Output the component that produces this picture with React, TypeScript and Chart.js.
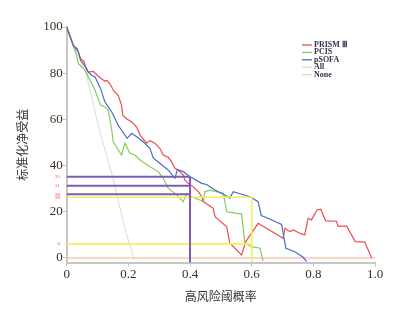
import React, { useEffect, useRef } from "react";
import { Chart, registerables } from "chart.js";

Chart.register(...registerables);

// Threshold probabilities (x) and standardized net benefit (y, %)
const prismX = [0, 0.021, 0.034, 0.045, 0.056, 0.065, 0.07, 0.086, 0.099, 0.113, 0.124, 0.13, 0.14, 0.153, 0.167, 0.178, 0.182, 0.194, 0.211, 0.227, 0.238, 0.259, 0.27, 0.286, 0.302, 0.313, 0.329, 0.34, 0.351, 0.362, 0.378, 0.383, 0.394, 0.41, 0.427, 0.438, 0.443, 0.475, 0.481, 0.519, 0.529, 0.567, 0.581, 0.621, 0.702, 0.708, 0.724, 0.735, 0.756, 0.772, 0.783, 0.794, 0.812, 0.824, 0.84, 0.875, 0.88, 0.908, 0.936, 0.967, 0.989];
const prismY = [100, 92.1, 90.6, 86.3, 85.2, 81.3, 80.5, 80.8, 79.1, 77.6, 76.5, 76.9, 75.5, 72.2, 70.4, 66.1, 61.8, 60.3, 58.9, 56.7, 53.2, 49.7, 50.8, 49.7, 47.5, 44.6, 43.6, 41.7, 38.8, 38.1, 35.9, 33.8, 32.3, 30.9, 28.7, 26.5, 24.4, 21.5, 17.9, 13.5, 6.4, 1.3, 7.1, 15.0, 8.5, 12.9, 11.4, 12.1, 10.7, 10.0, 17.2, 16.5, 20.8, 21.1, 16.1, 15.9, 13.8, 13.8, 7.1, 6.9, 0];

const pcisX = [0, 0.021, 0.032, 0.038, 0.049, 0.059, 0.07, 0.081, 0.092, 0.102, 0.11, 0.124, 0.135, 0.14, 0.146, 0.151, 0.178, 0.189, 0.205, 0.221, 0.238, 0.27, 0.297, 0.313, 0.329, 0.357, 0.378, 0.389, 0.405, 0.432, 0.443, 0.448, 0.465, 0.508, 0.519, 0.567, 0.578, 0.6, 0.627, 0.637];
const pcisY = [100, 92.1, 87.7, 84.1, 82.7, 81.3, 78.4, 75.5, 72.6, 69.0, 66.1, 65.4, 63.9, 60.3, 55.4, 50.3, 44.6, 49.7, 45.3, 44.6, 42.4, 39.5, 37.4, 34.5, 30.2, 27.3, 24.4, 28.0, 26.5, 25.1, 24.4, 28.7, 29.4, 28.0, 20.0, 19.0, 6.4, 4.9, 4.2, -1.3];

const psofaX = [0, 0.021, 0.038, 0.045, 0.056, 0.065, 0.07, 0.081, 0.092, 0.102, 0.11, 0.117, 0.124, 0.135, 0.146, 0.157, 0.167, 0.178, 0.196, 0.211, 0.227, 0.248, 0.27, 0.281, 0.302, 0.329, 0.351, 0.359, 0.378, 0.4, 0.438, 0.454, 0.481, 0.519, 0.529, 0.54, 0.594, 0.621, 0.631, 0.653, 0.697, 0.711, 0.74, 0.767, 0.778];
const psofaY = [100, 92.1, 89.2, 85.6, 83.7, 81.9, 80.5, 79.1, 78.4, 75.5, 73.3, 70.4, 67.5, 65.4, 63.2, 60.3, 57.4, 55.3, 51.8, 54.0, 52.5, 50.3, 47.5, 43.2, 41.0, 38.1, 34.5, 38.3, 37.4, 35.2, 32.3, 31.8, 29.4, 26.8, 25.8, 28.7, 26.5, 24.4, 18.4, 17.2, 14.5, 4.2, 2.7, 0.3, -1.6];

const allX = [0, 0.03, 0.063, 0.106, 0.149, 0.187, 0.219];
const allY = [100, 90, 80, 55.4, 35.2, 13.5, -0.9];

const noneX = [0, 1];
const noneY = [0, 0];

// Reference guide lines
const guidePurpleY = [35.2, 31.3, 27.6];
const guidePurpleX = 0.4;
const guideYellowY = [26.3, 6.1];
const guideYellowX = 0.6;
const guideLabels = ["35", "31", "28", "26", "6"];
const guideLabelValues = [35.2, 31.3, 27.6, 26.3, 6.1];

const xTicks = [0, 0.2, 0.4, 0.6, 0.8, 1.0];
const xTickLabels = ["0", "0.2", "0.4", "0.6", "0.8", "1.0"];
const yTicks = [0, 20, 40, 60, 80, 100];

const legendNames = ["PRISM \u2162", "PCIS", "pSOFA", "All", "None"];
const colors = ["#ef4b4b", "#86cc5a", "#4a6ccb", "#d9d9d9", "#f1cdb5"];

const zip = (xs: number[], ys: number[]) => xs.map((x, i) => ({ x, y: ys[i] }));

export default function App() {
  const ref = useRef<HTMLCanvasElement | null>(null);

  useEffect(() => {
    if (!ref.current) return;
    const lineDs = (label: string, data: any[], color: string, width: number, order: number) => ({
      label,
      data,
      borderColor: color,
      backgroundColor: color,
      borderWidth: width,
      pointRadius: 0,
      tension: 0,
      fill: false,
      order,
    });

    const datasets: any[] = [
      lineDs(legendNames[4], zip(noneX, noneY), colors[4], 1.5, 10),
      lineDs(legendNames[3], zip(allX, allY), colors[3], 1, 9),
      lineDs(legendNames[0], zip(prismX, prismY), colors[0], 1.2, 5),
      lineDs(legendNames[1], zip(pcisX, pcisY), colors[1], 1.2, 6),
      lineDs(legendNames[2], zip(psofaX, psofaY), colors[2], 1.2, 4),
    ];
    guidePurpleY.forEach((v) =>
      datasets.push(lineDs("g", [{ x: 0, y: v }, { x: guidePurpleX, y: v }], "#7c5cb4", 2, 2))
    );
    datasets.push(
      lineDs("g", [{ x: guidePurpleX, y: -2 }, { x: guidePurpleX, y: guidePurpleY[0] }], "#7c5cb4", 2, 2)
    );
    guideYellowY.forEach((v) =>
      datasets.push(lineDs("g", [{ x: 0, y: v }, { x: guideYellowX, y: v }], "#f4ef5c", 1.6, 3))
    );
    datasets.push(
      lineDs("g", [{ x: guideYellowX, y: -2 }, { x: guideYellowX, y: guideYellowY[0] }], "#f4ef5c", 1.6, 3)
    );

    const extras = {
      id: "extras",
      afterDraw(chart: any) {
        const ctx = chart.ctx;
        const ys = chart.scales.y;
        ctx.save();
        // small red labels near y axis
        ctx.fillStyle = "#ff3b3b";
        ctx.font = "5px 'Liberation Serif'";
        ctx.textAlign = "right";
        ctx.textBaseline = "middle";
        guideLabels.forEach((t, i) => {
          ctx.fillText(t, 60, ys.getPixelForValue(guideLabelValues[i]));
        });
        // legend
        const x0 = 302, x1 = 312, tx = 314;
        let y = 45;
        ctx.textAlign = "left";
        ctx.font = "bold 8px 'Liberation Serif'";
        legendNames.forEach((n, i) => {
          ctx.strokeStyle = colors[i];
          ctx.lineWidth = 1.3;
          ctx.beginPath();
          ctx.moveTo(x0, y);
          ctx.lineTo(x1, y);
          ctx.stroke();
          ctx.fillStyle = "#35354a";
          ctx.fillText(n, tx, y);
          y += 7.4;
        });
        ctx.restore();
      },
    };

    const tickFont = { family: "'Liberation Serif', serif", size: 13 };
    const chart = new Chart(ref.current, {
      type: "line",
      data: { datasets },
      plugins: [extras],
      options: {
        animation: false,
        responsive: false,
        maintainAspectRatio: false,
        parsing: true,
        layout: { padding: { top: 27, right: 33, left: 0, bottom: 0 } },
        plugins: { legend: { display: false }, tooltip: { enabled: false } },
        scales: {
          x: {
            type: "linear",
            min: 0,
            max: 1,
            afterFit: (s: any) => {
              s.height = 47.4;
            },
            afterBuildTicks: (s: any) => {
              s.ticks = xTicks.map((v) => ({ value: v }));
            },
            ticks: {
              padding: 0,
              color: "#3a3222",
              font: tickFont,
              maxRotation: 0,
              callback: (v: any) => {
                const i = xTicks.findIndex((t) => Math.abs(t - Number(v)) < 1e-9);
                return i >= 0 ? xTickLabels[i] : "";
              },
            },
            grid: { drawOnChartArea: false, tickLength: 4, color: "#c6c6c6", lineWidth: 1 },
            border: { color: "#c6c6c6", width: 2 },
            title: {
              display: true,
              text: "高风险阈概率",
              color: "#333333",
              font: { family: "'Noto Sans CJK SC'", size: 12 },
              padding: { top: 0, bottom: 6.8 },
            },
          },
          y: {
            type: "linear",
            min: -2,
            max: 100,
            afterFit: (s: any) => {
              s.width = 66.7;
            },
            afterBuildTicks: (s: any) => {
              s.ticks = yTicks.map((v) => ({ value: v }));
            },
            ticks: { padding: 0, color: "#3a3222", font: tickFont },
            grid: { drawOnChartArea: false, tickLength: 4, color: "#c6c6c6", lineWidth: 1 },
            border: { color: "#c6c6c6", width: 2 },
            title: {
              display: true,
              text: "标准化净受益",
              color: "#333333",
              font: { family: "'Noto Sans CJK SC'", size: 12 },
              padding: { top: 14.8, bottom: 0 },
            },
          },
        },
      } as any,
    });
    return () => chart.destroy();
  }, []);

  return (
    <div style={{ position: "fixed", left: 0, top: 0, width: 408, height: 310, background: "#fff" }}>
      <canvas ref={ref} width={408} height={310} style={{ width: 408, height: 310, display: "block" }} />
    </div>
  );
}
